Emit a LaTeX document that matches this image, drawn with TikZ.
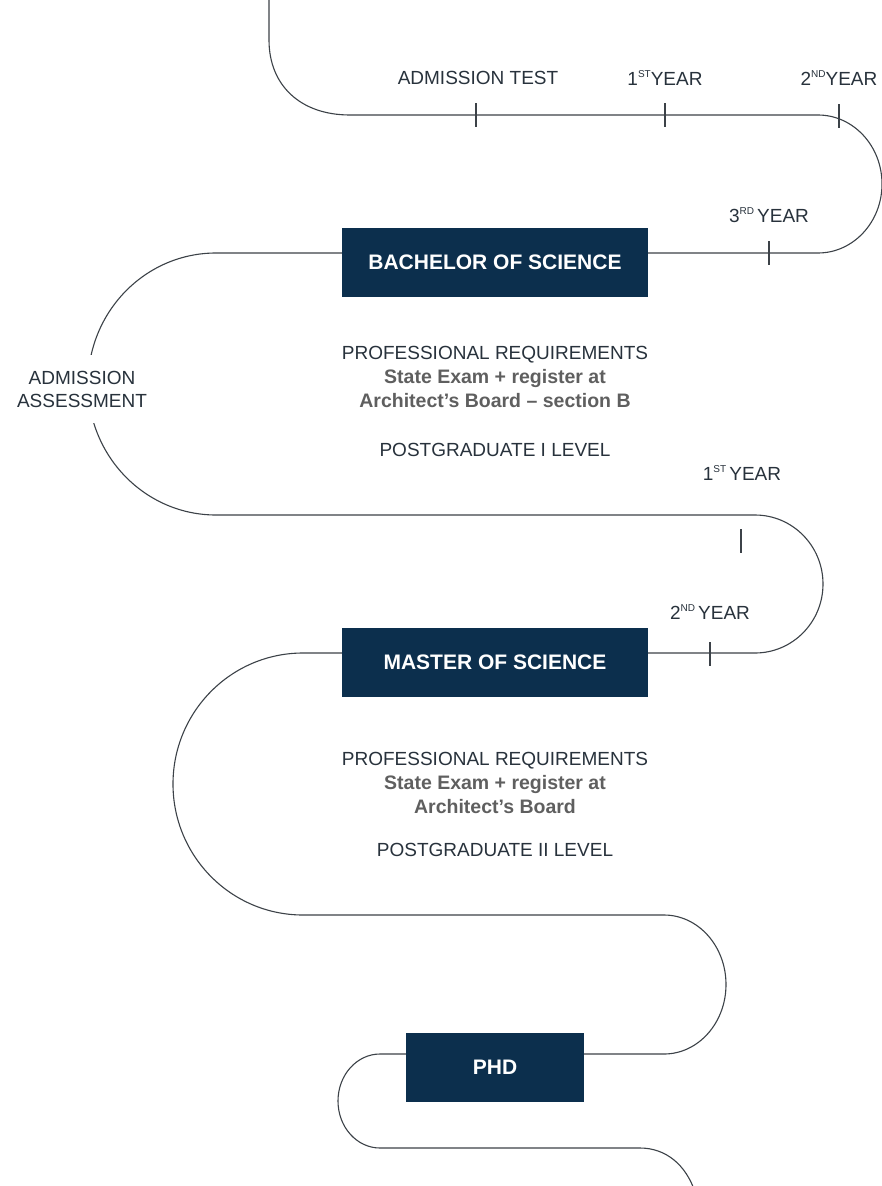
\documentclass[tikz,border=0pt]{standalone}
\usepackage{fontspec}
\setmainfont{Liberation Sans}

\definecolor{boxnavy}{RGB}{12,47,77}
\definecolor{roadgray}{RGB}{60,66,72}
\definecolor{lblslate}{RGB}{40,50,60}
\definecolor{reqgray}{RGB}{95,95,95}

\newcommand\yrsup[1]{\raisebox{0.8ex}{\fontsize{10}{10}\selectfont #1}}

\tikzset{
  road/.style={draw=roadgray, line width=1.1pt},
  yeartick/.style={draw=roadgray, line width=1.1pt},
  degree/.style={fill=boxnavy, text=white, font=\bfseries\fontsize{21}{24}\selectfont,
    minimum height=69pt, inner sep=0pt},
  lbl/.style={text=lblslate, font=\fontsize{19}{23}\selectfont, inner sep=0pt},
  req/.style={text=reqgray, font=\bfseries\fontsize{19.5}{23}\selectfont, inner sep=0pt},
}

\begin{document}
\begin{tikzpicture}[x=1pt,y=-1pt]
\useasboundingbox (0,0) rectangle (882,1186);
\fill[white] (0,0) rectangle (882,1186);

% the road
\draw[road] (269,-2) -- (269,40) .. controls (269,85) and (300,115) .. (350,115) -- (818,115)
  .. controls (853.3,115) and (882,145.9) .. (882,184) .. controls (882,222.1) and (853.3,253) .. (818,253)
  -- (216,253)
  .. controls (145.3,253) and (88,311.6) .. (88,384) .. controls (88,456.4) and (145.3,515) .. (216,515)
  -- (755,515)
  .. controls (792.6,515) and (823,545.9) .. (823,584) .. controls (823,622.1) and (792.6,653) .. (755,653)
  -- (303,653)
  .. controls (231.2,653) and (173,711.6) .. (173,784) .. controls (173,856.4) and (231.2,915) .. (303,915)
  -- (664,915)
  .. controls (698.2,915) and (726,946.1) .. (726,984.5) .. controls (726,1022.9) and (698.2,1054) .. (664,1054)
  -- (380,1054)
  .. controls (356.8,1054) and (338,1075) .. (338,1101) .. controls (338,1127) and (356.8,1148) .. (380,1148)
  -- (640,1148) .. controls (666,1148) and (686,1165) .. (695,1192);

% year ticks
\foreach \x/\y in {476/115, 665/115, 839/116, 769/253, 741/541, 710/654}
  \draw[yeartick] (\x,\y-12) -- (\x,\y+12);

% labels along the road
\node[lbl] (admtest) at (478,78) {ADMISSION TEST};
\node[lbl] (bscone) at (665,78) {1\yrsup{ST}YEAR};
\node[lbl] (bsctwo) at (839,78) {2\yrsup{ND}YEAR};
\node[lbl] (bscthree) at (769,215) {3\yrsup{RD}\,YEAR};
\node[lbl, fill=white, inner xsep=2pt, inner ysep=16pt, align=center] (admass) at (82,389)
  {ADMISSION\\ASSESSMENT};
\node[lbl] (mscone) at (742,473) {1\yrsup{ST}\,YEAR};
\node[lbl] (msctwo) at (710,612) {2\yrsup{ND}\,YEAR};

% degrees
\node[degree, minimum width=306pt] (bsc) at (495,262.5) {BACHELOR OF SCIENCE};
\node[degree, minimum width=306pt] (msc) at (495,662) {MASTER OF SCIENCE};
\node[degree, minimum width=178pt] (phd) at (495,1067.5) {PHD};

% requirements
\node[lbl] (reqbsc) at (495,355) {PROFESSIONAL REQUIREMENTS};
\node[req] (statebsc) at (495,378) {State Exam + register at};
\node[req] (boardbsc) at (495,401) {Architect’s Board – section B};
\node[lbl] (pgone) at (495,450) {POSTGRADUATE I LEVEL};

\node[lbl] (reqmsc) at (495,761) {PROFESSIONAL REQUIREMENTS};
\node[req] (statemsc) at (495,784) {State Exam + register at};
\node[req] (boardmsc) at (495,807) {Architect’s Board};
\node[lbl] (pgtwo) at (495,850) {POSTGRADUATE II LEVEL};

\end{tikzpicture}
\end{document}
